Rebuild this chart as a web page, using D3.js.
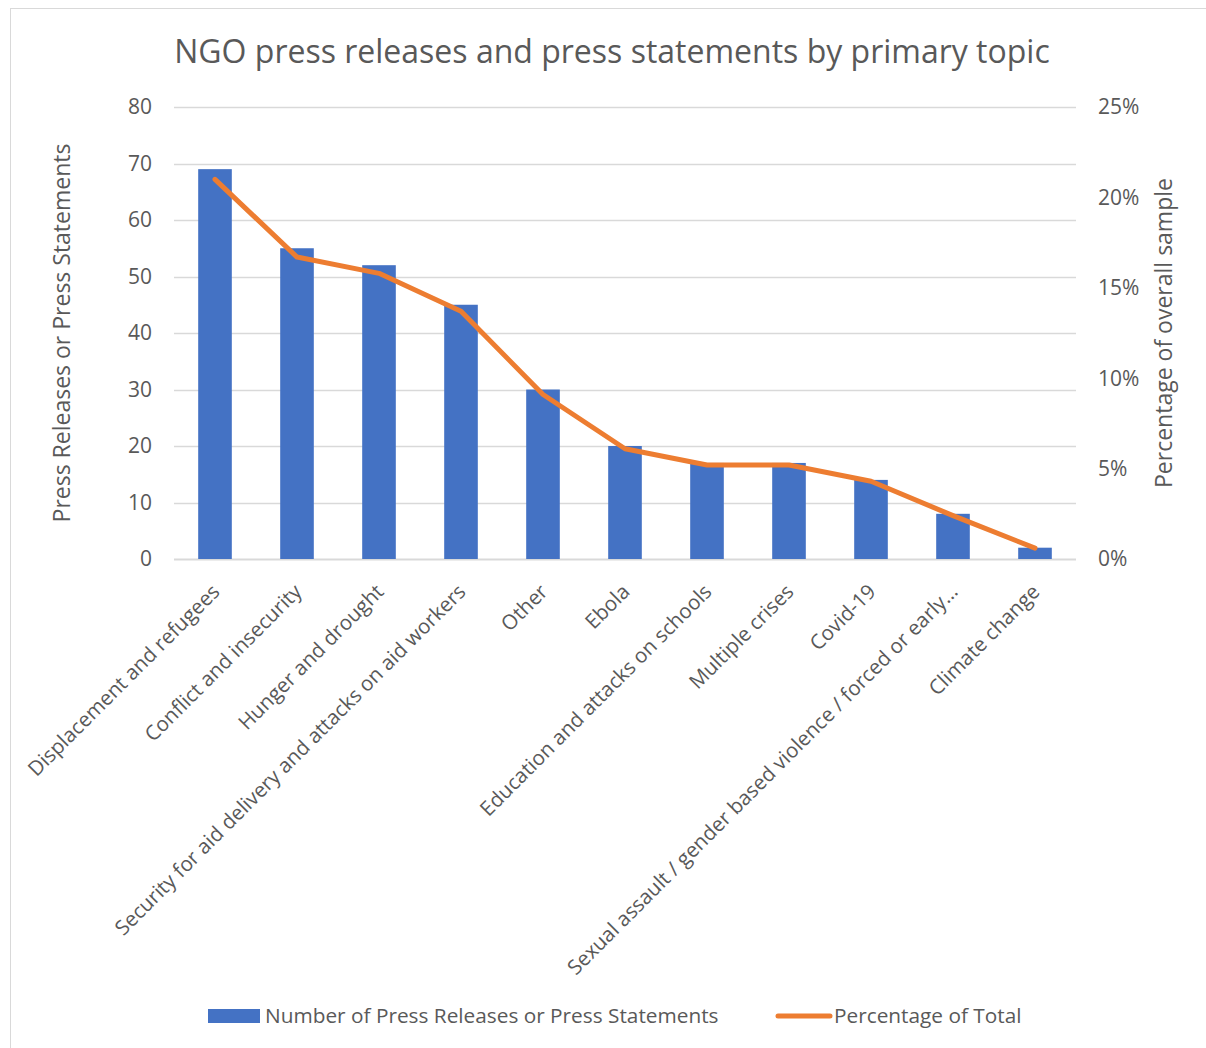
<!DOCTYPE html>
<html>
<head>
<meta charset="utf-8">
<script src="https://cdn.jsdelivr.net/npm/d3@7"></script>
<style>
  html, body { margin: 0; padding: 0; background: #fff; }
  svg { display: block; }
  text { font-family: "Open Sans", "Noto Sans", sans-serif; fill: #595959; }
</style>
</head>
<body>
<svg id="chart" width="1206" height="1048"></svg>
<script>
// Primary topics of NGO press releases / statements
const categories = [
  "Displacement and refugees",
  "Conflict and insecurity",
  "Hunger and drought",
  "Security for aid delivery and attacks on aid workers",
  "Other",
  "Ebola",
  "Education and attacks on schools",
  "Multiple crises",
  "Covid-19",
  "Sexual assault / gender based violence / forced or early…",
  "Climate change"
];
// Number of press releases or press statements per topic
const counts = [69, 55, 52, 45, 30, 20, 17, 17, 14, 8, 2];
// Share of the overall sample (%)
const percentages = [21.0, 16.7, 15.8, 13.7, 9.1, 6.1, 5.2, 5.2, 4.3, 2.4, 0.6];

const leftTicks = [0, 10, 20, 30, 40, 50, 60, 70, 80];
const rightTicks = [0, 5, 10, 15, 20, 25];

const titleText = "NGO press releases and press statements by primary topic";
const leftTitle = "Press Releases or Press Statements";
const rightTitle = "Percentage of overall sample";
const legendBar = "Number of Press Releases or Press Statements";
const legendLine = "Percentage of Total";

const svg = d3.select("#chart");
const plot = { left: 174, right: 1076, top: 107, bottom: 559 };

// Chart frame
svg.append("rect")
  .attr("x", 10.5).attr("y", 8.5)
  .attr("width", 1220).attr("height", 1060)
  .attr("fill", "none").attr("stroke", "#D9D9D9").attr("stroke-width", 1);

const x = d3.scaleBand().domain(categories)
  .range([plot.left, plot.right]).paddingInner(0.59).paddingOuter(0.295);
const yL = d3.scaleLinear().domain([0, 80]).range([plot.bottom, plot.top]);
const yR = d3.scaleLinear().domain([0, 25]).range([plot.bottom, plot.top]);

// Horizontal gridlines
svg.append("g").selectAll("line").data(leftTicks).join("line")
  .attr("x1", plot.left).attr("x2", plot.right)
  .attr("y1", d => Math.round(yL(d)) + 0.5).attr("y2", d => Math.round(yL(d)) + 0.5)
  .attr("stroke", "#D9D9D9").attr("stroke-width", d => d === 0 ? 2 : 1.5);

// Left axis labels
svg.append("g").selectAll("text").data(leftTicks).join("text")
  .attr("x", 152).attr("y", d => yL(d)).attr("dy", "0.35em")
  .attr("text-anchor", "end").attr("font-size", 21).text(d => d);

// Right axis labels
svg.append("g").selectAll("text").data(rightTicks).join("text")
  .attr("x", 1098).attr("y", d => yR(d)).attr("dy", "0.35em")
  .attr("text-anchor", "start").attr("font-size", 21).text(d => d + "%");

// Bars
svg.append("g").selectAll("rect").data(counts).join("rect")
  .attr("x", (d, i) => x(categories[i]))
  .attr("y", d => yL(d))
  .attr("width", x.bandwidth())
  .attr("height", d => yL(0) - yL(d))
  .attr("fill", "#4472C4");

// Percentage line
const cx = i => x(categories[i]) + x.bandwidth() / 2;
const line = d3.line().x((d, i) => cx(i)).y(d => yR(d));
svg.append("path").datum(percentages)
  .attr("d", line)
  .attr("fill", "none").attr("stroke", "#ED7D31").attr("stroke-width", 5)
  .attr("stroke-linejoin", "round").attr("stroke-linecap", "round");

// Category labels, rotated
svg.append("g").selectAll("text").data(categories).join("text")
  .attr("transform", (d, i) => `translate(${cx(i) + 6},${593}) rotate(-45)`)
  .attr("text-anchor", "end").attr("font-size", 20.5).text(d => d);

// Title
svg.append("text").attr("x", 612).attr("y", 63).attr("text-anchor", "middle")
  .attr("font-size", 32).text(titleText);

// Axis titles
svg.append("text").attr("transform", "translate(70,333) rotate(-90)")
  .attr("text-anchor", "middle").attr("font-size", 23).text(leftTitle);
svg.append("text").attr("transform", "translate(1172,333) rotate(-90)")
  .attr("text-anchor", "middle").attr("font-size", 23).text(rightTitle);

// Legend
svg.append("rect").attr("x", 208).attr("y", 1009).attr("width", 52).attr("height", 14).attr("fill", "#4472C4");
svg.append("text").attr("x", 265).attr("y", 1016).attr("dy", "0.35em")
  .attr("font-size", 20.8).text(legendBar);
svg.append("line").attr("x1", 778).attr("x2", 830).attr("y1", 1016).attr("y2", 1016)
  .attr("stroke", "#ED7D31").attr("stroke-width", 5).attr("stroke-linecap", "round");
svg.append("text").attr("x", 834).attr("y", 1016).attr("dy", "0.35em")
  .attr("font-size", 20.8).text(legendLine);
</script>
</body>
</html>
